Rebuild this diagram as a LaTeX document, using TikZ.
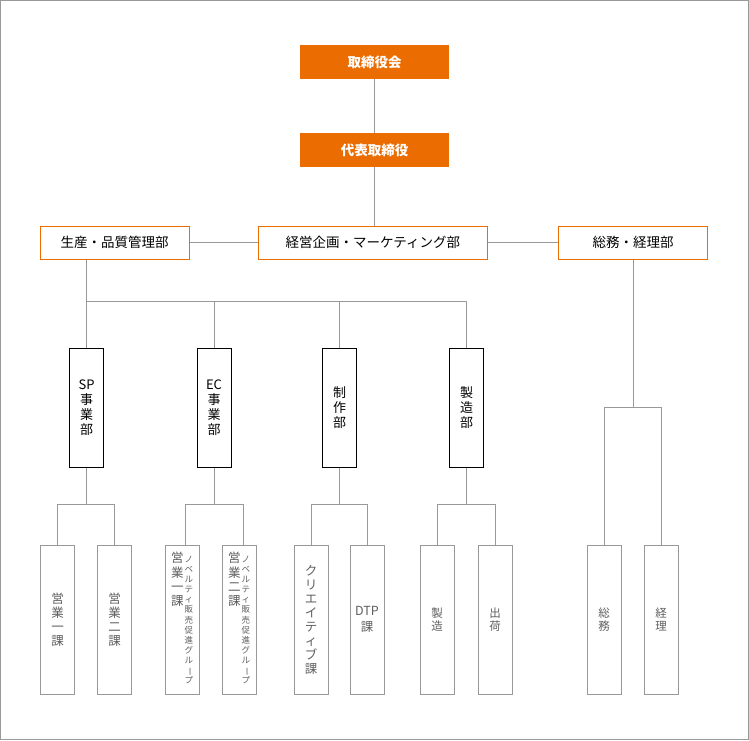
\documentclass[tikz,border=0pt]{standalone}
\usepackage{fontspec}
\setmainfont{Noto Sans CJK JP}
\usepackage{graphicx}
\usepackage{xcolor}
\usetikzlibrary{positioning}
\definecolor{orgorange}{RGB}{235, 108, 0}
\definecolor{orgline}{RGB}{153, 153, 153}
\definecolor{orgtext}{RGB}{95, 95, 95}
\newcommand{\tatebou}{\rotatebox[origin=c]{-90}{ー}}
\newcommand{\novelty}{{\fontsize{8.5}{10}\selectfont\begin{tabular}[t]{@{}c@{}}ノ\\ベ\\ル\\テ\\ィ\\販\\売\\促\\進\\グ\\ル\\\tatebou\\プ\end{tabular}}}

\begin{document}
\begin{tikzpicture}[x=1pt, y=-1pt,
        exec/.style={rectangle, fill=orgorange, text=white, font=\fontsize{13.5}{16}\selectfont\bfseries, minimum width=149pt, minimum height=34pt, inner sep=0pt},
        dept/.style={rectangle, draw=orgorange, line width=1pt, fill=white, font=\fontsize{13.5}{16}\selectfont, minimum width=149pt, minimum height=33pt, inner sep=0pt},
        unit/.style={rectangle, draw=black, line width=1pt, fill=white, font=\fontsize{13}{15}\selectfont, minimum width=34pt, minimum height=119pt, inner sep=0pt, align=center},
        leaf/.style={rectangle, draw=orgline, line width=1pt, fill=white, text=orgtext, font=\fontsize{12.5}{14}\selectfont, minimum width=34pt, minimum height=149pt, inner sep=0pt, align=center},
        short/.style={font=\fontsize{11.5}{12.5}\selectfont},
        link/.style={draw=orgline, line width=1pt}
    ]
        \useasboundingbox (0,0) rectangle (749,740);
        \draw[orgline, line width=1pt] (0.5,0.5) rectangle (748.5,739.5);

        \node[exec] (board) at (374.5,62) {取締役会};
        \node[exec] (ceo) at (374.5,150) {代表取締役};
        \node[dept] (quality) at (114.5,242.5) {生産・品質管理部};
        \node[dept, minimum width=229pt] (planning) at (372.8,242.5) {経営企画・マーケティング部};
        \node[dept] (admin) at (633,242.5) {総務・経理部};

        \node[unit] (sp) at (86.5,407.5) {SP\\事\\業\\部};
        \node[unit] (ec) at (214,407.5) {EC\\事\\業\\部};
        \node[unit] (create) at (339.5,407.5) {制\\作\\部};
        \node[unit] (factory) at (466.5,407.5) {製\\造\\部};

        \node[leaf] (sales1) at (57.5,619.5) {営\\業\\一\\課};
        \node[leaf] (sales2) at (114.5,619.5) {営\\業\\二\\課};
        \node[leaf] (ec1) at (182,619.5) {\begin{tabular}{@{}c@{\hspace{1pt}}c@{}}\begin{tabular}[t]{@{}c@{}}営\\業\\一\\課\end{tabular} & \novelty\end{tabular}};
        \node[leaf] (ec2) at (239,619.5) {\begin{tabular}{@{}c@{\hspace{1pt}}c@{}}\begin{tabular}[t]{@{}c@{}}営\\業\\二\\課\end{tabular} & \novelty\end{tabular}};
        \node[leaf] (creative) at (311,619.5) {ク\\リ\\エ\\イ\\テ\\ィ\\ブ\\課};
        \node[leaf, font=\fontsize{12.5}{16}\selectfont] (dtp) at (367,619.5) {DTP\\課};
        \node[leaf, short] (make) at (437,619.5) {製\\造};
        \node[leaf, short] (ship) at (495,619.5) {出\\荷};
        \node[leaf, short] (general) at (604,619.5) {総\\務};
        \node[leaf, short] (account) at (661,619.5) {経\\理};

        % top line
        \draw[link] (board) -- (ceo);
        \draw[link] (ceo.south) -- (ceo.south |- planning.north);
        \draw[link] (quality) -- (planning);
        \draw[link] (planning) -- (admin);

        % business units
        \coordinate (bus) at (86.5,301);
        \draw[link] (quality.south -| bus) -- (bus);
        \draw[link] (bus) -- (sp);
        \draw[link] (bus) -| (ec);
        \draw[link] (bus) -| (create);
        \draw[link] (bus) -| (factory);

        \coordinate (spfork) at (86.5,504);
        \coordinate (ecfork) at (214,504);
        \coordinate (createfork) at (339.5,504);
        \coordinate (factoryfork) at (466.5,504);
        \coordinate (adminfork) at (633,407.5);
        \draw[link] (sp) -- (spfork);
        \draw[link] (spfork) -| (sales1);
        \draw[link] (spfork) -| (sales2);
        \draw[link] (ec) -- (ecfork);
        \draw[link] (ecfork) -| ([xshift=3pt]ec1.north);
        \draw[link] (ecfork) -| ([xshift=4pt]ec2.north);
        \draw[link] (create) -- (createfork);
        \draw[link] (createfork) -| (creative);
        \draw[link] (createfork) -| (dtp);
        \draw[link] (factory) -- (factoryfork);
        \draw[link] (factoryfork) -| (make);
        \draw[link] (factoryfork) -| (ship);
        \draw[link] (admin) -- (adminfork);
        \draw[link] (adminfork) -| (general);
        \draw[link] (adminfork) -| (account);
    \end{tikzpicture}
\end{document}
